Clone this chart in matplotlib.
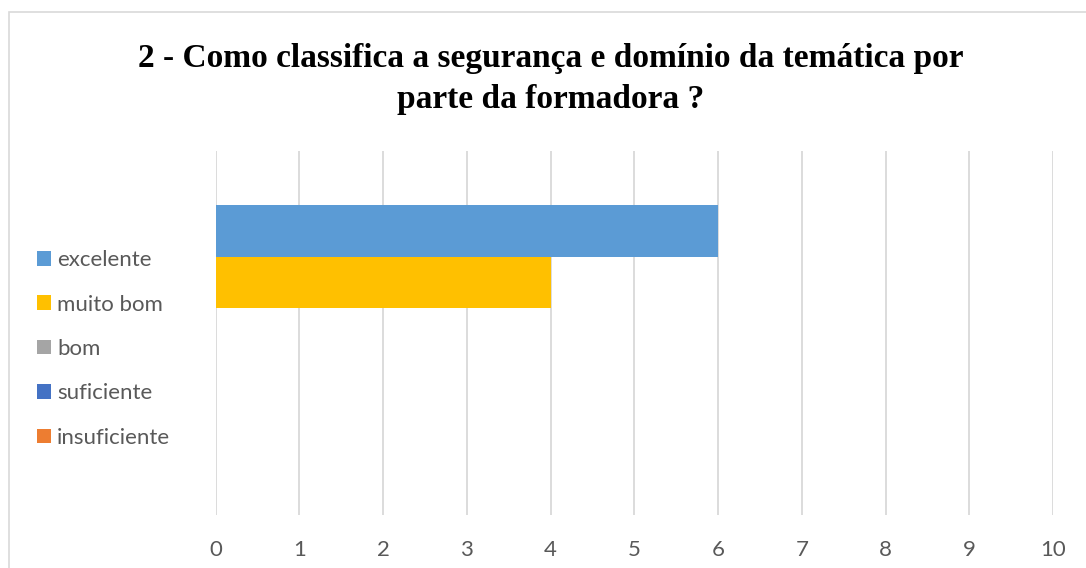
import matplotlib
matplotlib.use("Agg")
import matplotlib.pyplot as plt
from matplotlib.patches import Rectangle

title = "2 - Como classifica a segurança e domínio da temática por\nparte da formadora ?"
series = ["insuficiente", "suficiente", "bom", "muito bom", "excelente"]
values = [0, 0, 0, 4, 6]
colors = ["#ED7D31", "#4472C4", "#A5A5A5", "#FFC000", "#5B9BD5"]
xticks = [0, 1, 2, 3, 4, 5, 6, 7, 8, 9, 10]

W, H = 1086, 568
fig = plt.figure(figsize=(W / 100, H / 100), dpi=100)
fig.patch.set_facecolor("white")

# chart border
fig.add_artist(Rectangle((9 / W, -0.05), 1.2, 0.05 + (1 - 11.5 / H),
                         transform=fig.transFigure, fill=False,
                         edgecolor="#D9D9D9", linewidth=1.2))

ax = fig.add_axes([215.7 / W, 53 / H, (1053 - 215.7) / W, (515 - 151) / H])
h = 51 / 364
handles = []
for i, (name, v, c) in enumerate(zip(series, values, colors)):
    b = ax.barh(0.5 + (i - 2) * h, v, height=h, color=c, label=name, zorder=3)
    handles.append(b)

ax.set_xlim(0, 10)
ax.set_ylim(0, 1)
ax.set_xticks(xticks)
ax.set_xticklabels([str(t) for t in xticks], fontfamily="Lato", fontsize=16, color="#595959")
ax.set_yticks([])
ax.tick_params(axis="x", length=0, pad=18)
ax.grid(axis="x", color="#D9D9D9", linewidth=1.3, zorder=0)
for s in ax.spines.values():
    s.set_visible(False)

leg = fig.legend(handles=handles[::-1], labels=series[::-1], loc="center left",
                 bbox_to_anchor=(37 / W, 1 - 349 / H), frameon=False,
                 prop={"family": "Lato", "size": 16}, labelcolor="#595959",
                 handlelength=0.63, handleheight=0.63, handletextpad=0.27,
                 labelspacing=1.1, borderpad=0, borderaxespad=0)

fig.text(0.507, 1 - 108 / H, title, ha="center", va="baseline", fontsize=24,
         fontweight="bold", fontfamily="Liberation Serif", color="black",
         linespacing=1.43)

fig.savefig("out.png", dpi=100)
